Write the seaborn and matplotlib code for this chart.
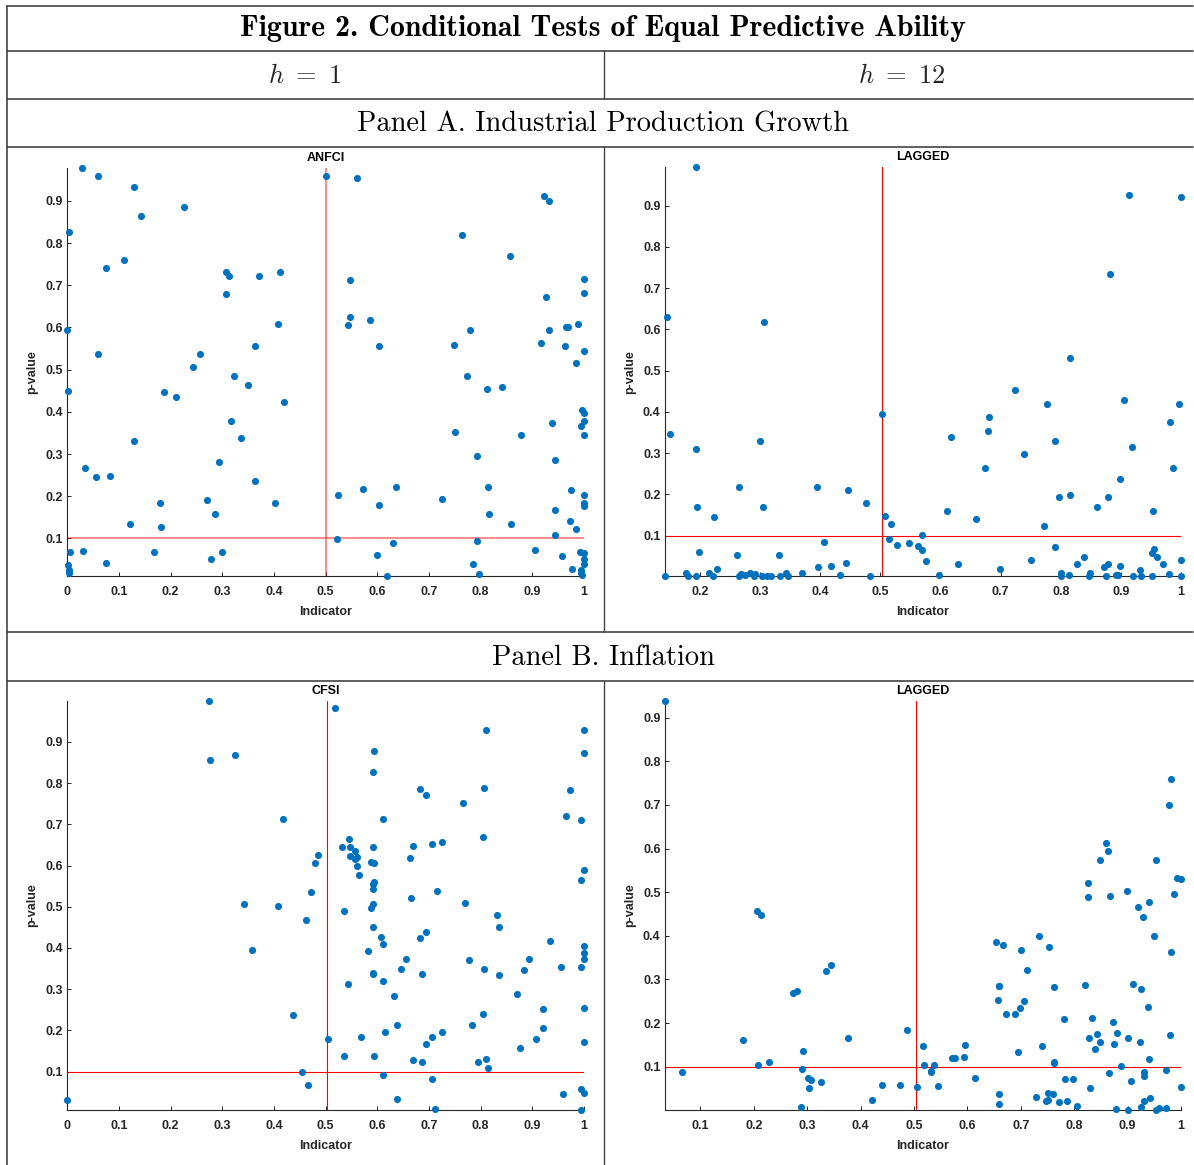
import numpy as np
import pandas as pd
import matplotlib
matplotlib.use("Agg")
import matplotlib.pyplot as plt
import seaborn as sns
from matplotlib.lines import Line2D
from matplotlib.ticker import FuncFormatter, FixedLocator

sns.set_theme(style="white")
plt.rcParams['font.family'] = ['Liberation Sans', 'DejaVu Sans']
plt.rcParams['font.weight'] = 'bold'
plt.rcParams['mathtext.fontset'] = 'cm'

# ---------------- data ----------------
# Panel A, h = 1 (ANFCI)
ip_h1_x = [0.029, 0.060, 0.129, 0.225, 0.142, 0.004, 0.110, 0.074, 0.308, 0.312,
           0.371, 0.412, 0.308, 0.408, 0.0, 0.060, 0.257, 0.363, 0.244, 0.322,
           0.349, 0.002, 0.187, 0.210, 0.419, 0.317, 0.337, 0.129, 0.294, 0.035,
           0.055, 0.082, 0.363, 0.180, 0.270, 0.402, 0.285, 0.121, 0.182, 0.006,
           0.031, 0.167, 0.300, 0.279, 0.074, 0.002, 0.004, 0.004, 0.5,
           0.561, 0.922, 0.932, 0.763, 0.856, 0.547, 1.0, 1.0, 0.926, 0.547,
           0.543, 0.585, 0.780, 0.932, 0.988, 0.965, 0.970, 0.916, 0.963, 0.603,
           1.0, 0.749, 0.985, 0.774, 0.813, 0.841, 0.997, 1.0, 1.0, 0.994,
           0.939, 1.0, 0.750, 0.878, 0.792, 0.943, 0.524, 0.572, 0.637, 0.725,
           0.815, 0.975, 1.0, 1.0, 1.0, 0.603, 0.817, 0.943, 0.972, 0.858,
           0.985, 0.522, 0.792, 0.943, 0.630, 0.906, 0.992, 1.0, 1.0, 1.0,
           0.599, 0.958, 0.785, 0.977, 0.994, 0.995, 0.619, 0.796, 0.997]
ip_h1_p = [0.977, 0.958, 0.933, 0.886, 0.865, 0.826, 0.760, 0.740, 0.732, 0.723,
           0.723, 0.732, 0.678, 0.608, 0.594, 0.538, 0.538, 0.555, 0.507, 0.485,
           0.464, 0.450, 0.447, 0.436, 0.424, 0.379, 0.338, 0.332, 0.282, 0.268,
           0.246, 0.248, 0.237, 0.184, 0.190, 0.184, 0.159, 0.135, 0.127, 0.067,
           0.071, 0.067, 0.068, 0.052, 0.041, 0.037, 0.025, 0.017, 0.958,
           0.955, 0.911, 0.900, 0.818, 0.770, 0.713, 0.715, 0.682, 0.672, 0.624,
           0.606, 0.618, 0.595, 0.594, 0.608, 0.600, 0.600, 0.563, 0.556, 0.555,
           0.545, 0.559, 0.515, 0.486, 0.454, 0.458, 0.405, 0.398, 0.378, 0.367,
           0.373, 0.346, 0.353, 0.344, 0.295, 0.287, 0.203, 0.218, 0.223, 0.194,
           0.223, 0.214, 0.204, 0.184, 0.176, 0.180, 0.157, 0.167, 0.141, 0.135,
           0.122, 0.099, 0.095, 0.108, 0.089, 0.072, 0.069, 0.065, 0.052, 0.040,
           0.060, 0.058, 0.040, 0.027, 0.026, 0.017, 0.011, 0.015, 0.013]

# Panel A, h = 12 (LAGGED)
ip_h12_x = [0.193, 0.144, 0.306, 0.149, 0.193, 0.299, 0.503, 0.264, 0.394, 0.446,
            0.476, 0.194, 0.304, 0.223, 0.507, 0.518, 0.515, 0.527, 0.548,
            0.406, 0.198, 0.262, 0.331, 0.443, 0.418, 0.396, 0.228, 0.370, 0.343,
            0.176, 0.214, 0.283, 0.268, 0.141, 0.180, 0.193, 0.221, 0.264, 0.274,
            0.289, 0.303, 0.311, 0.318, 0.332, 0.346, 0.433, 0.482, 0.292,
            0.562, 0.569, 0.569, 0.575, 0.598, 0.611, 0.617, 0.629, 0.659, 0.674,
            0.679, 0.681, 0.699, 0.723, 0.738, 0.751, 0.772, 0.777, 0.791, 0.791,
            0.797, 0.800, 0.800, 0.816, 0.816, 0.814, 0.827, 0.838, 0.847, 0.849,
            0.860, 0.872, 0.878, 0.876, 0.878, 0.882, 0.892, 0.896, 0.899, 0.899,
            0.905, 0.914, 0.918, 0.920, 0.932, 0.934, 0.952, 0.952, 0.954, 0.955,
            0.960, 0.970, 0.980, 0.981, 0.987, 0.997, 1.0, 1.0, 1.0]
ip_h12_p = [0.993, 0.630, 0.618, 0.347, 0.310, 0.329, 0.396, 0.217, 0.217, 0.211,
            0.179, 0.170, 0.170, 0.146, 0.148, 0.127, 0.091, 0.078, 0.082,
            0.085, 0.059, 0.052, 0.052, 0.034, 0.027, 0.025, 0.019, 0.010, 0.010,
            0.009, 0.009, 0.010, 0.006, 0.002, 0.002, 0.002, 0.002, 0.002, 0.004,
            0.002, 0.002, 0.002, 0.002, 0.002, 0.002, 0.004, 0.002, 0.006,
            0.074, 0.102, 0.065, 0.038, 0.005, 0.160, 0.339, 0.030, 0.140, 0.263,
            0.354, 0.388, 0.019, 0.453, 0.297, 0.040, 0.124, 0.419, 0.329, 0.072,
            0.194, 0.009, 0.002, 0.531, 0.198, 0.004, 0.031, 0.048, 0.002, 0.009,
            0.169, 0.023, 0.032, 0.002, 0.194, 0.735, 0.004, 0.004, 0.236, 0.027,
            0.428, 0.927, 0.314, 0.002, 0.017, 0.002, 0.002, 0.057, 0.160, 0.068,
            0.048, 0.030, 0.006, 0.375, 0.263, 0.418, 0.921, 0.040, 0.002]

# Panel B, h = 1 (CFSI)
inf_h1_x = [0.274, 0.276, 0.325, 0.417, 0.485, 0.479, 0.472, 0.342, 0.407, 0.462,
            0.358, 0.437, 0.504, 0.454, 0.465, 0.0,
            0.519, 0.810, 1.0, 0.594, 1.0, 0.591, 0.683, 0.695, 0.807, 0.972,
            0.765, 0.965, 0.995, 0.611, 0.546, 0.532, 0.547, 0.557, 0.591, 0.547,
            0.557, 0.561, 0.561, 0.565, 0.588, 0.594, 0.670, 0.663, 0.705, 0.725,
            0.804, 1.0, 0.995, 0.594, 0.591, 0.591, 0.715, 0.666, 0.591, 0.588,
            0.535, 0.770, 0.831, 0.835, 0.591, 0.608, 0.611, 0.683, 0.695, 0.581,
            0.934, 1.0, 1.0, 1.0, 0.995, 0.955, 0.893, 0.883, 0.777, 0.807,
            0.835, 0.656, 0.646, 0.591, 0.591, 0.686, 0.611, 0.544, 0.633, 0.870,
            0.921, 1.0, 0.804, 0.784, 0.639, 0.921, 0.907, 0.876, 0.615, 0.568,
            0.705, 0.725, 0.695, 1.0, 0.535, 0.594, 0.670, 0.686, 0.794, 0.810,
            0.814, 0.611, 0.705, 0.959, 0.995, 1.0, 0.639, 0.712, 0.995]
inf_h1_p = [0.999, 0.857, 0.868, 0.714, 0.625, 0.607, 0.536, 0.506, 0.502, 0.467,
            0.395, 0.237, 0.178, 0.099, 0.068, 0.032,
            0.982, 0.929, 0.929, 0.878, 0.872, 0.826, 0.786, 0.771, 0.787, 0.782,
            0.752, 0.719, 0.710, 0.714, 0.664, 0.644, 0.644, 0.635, 0.646, 0.623,
            0.615, 0.621, 0.598, 0.577, 0.608, 0.606, 0.648, 0.617, 0.652, 0.656,
            0.669, 0.589, 0.566, 0.560, 0.554, 0.544, 0.539, 0.522, 0.506, 0.496,
            0.489, 0.509, 0.481, 0.452, 0.452, 0.426, 0.409, 0.425, 0.438, 0.392,
            0.417, 0.405, 0.387, 0.374, 0.353, 0.355, 0.374, 0.346, 0.370, 0.349,
            0.334, 0.374, 0.350, 0.340, 0.336, 0.338, 0.319, 0.313, 0.283, 0.289,
            0.251, 0.254, 0.240, 0.212, 0.212, 0.205, 0.178, 0.158, 0.196, 0.184,
            0.184, 0.196, 0.167, 0.173, 0.138, 0.138, 0.129, 0.123, 0.123, 0.131,
            0.110, 0.091, 0.081, 0.047, 0.057, 0.049, 0.034, 0.009, 0.007]

# Panel B, h = 12 (LAGGED)
inf_h12_x = [0.033, 0.066, 0.180, 0.205, 0.213, 0.207, 0.228, 0.273, 0.281, 0.336,
             0.344, 0.292, 0.290, 0.302, 0.307, 0.303, 0.326, 0.289, 0.376, 0.422,
             0.440, 0.474, 0.486,
             0.505, 0.516, 0.518, 0.537, 0.531, 0.532, 0.544, 0.571, 0.577, 0.593,
             0.596, 0.614, 0.654, 0.667, 0.659, 0.660, 0.657, 0.672, 0.659, 0.659,
             0.690, 0.698, 0.706, 0.695, 0.701, 0.711, 0.734, 0.752, 0.740, 0.762,
             0.762, 0.762, 0.729, 0.751, 0.760, 0.748, 0.751, 0.772, 0.781, 0.782,
             0.797, 0.786, 0.805, 0.821, 0.825, 0.826, 0.828, 0.833, 0.838, 0.843,
             0.848, 0.830, 0.849, 0.859, 0.864, 0.867, 0.865, 0.873, 0.875, 0.880,
             0.878, 0.888, 0.898, 0.901, 0.901, 0.906, 0.911, 0.919, 0.923, 0.925,
             0.928, 0.926, 0.931, 0.931, 0.931, 0.939, 0.941, 0.941, 0.942, 0.949,
             0.954, 0.954, 0.959, 0.971, 0.971, 0.977, 0.979, 0.982, 0.982, 0.986,
             0.992, 1.0, 1.0]
inf_h12_p = [0.938, 0.089, 0.162, 0.456, 0.447, 0.105, 0.111, 0.268, 0.273, 0.320,
             0.334, 0.137, 0.095, 0.075, 0.069, 0.051, 0.065, 0.009, 0.167, 0.025,
             0.059, 0.059, 0.184,
             0.053, 0.147, 0.105, 0.105, 0.091, 0.087, 0.057, 0.121, 0.121, 0.123,
             0.150, 0.075, 0.386, 0.378, 0.285, 0.284, 0.254, 0.220, 0.037, 0.015,
             0.222, 0.235, 0.251, 0.133, 0.368, 0.322, 0.400, 0.374, 0.147, 0.282,
             0.111, 0.108, 0.031, 0.040, 0.037, 0.021, 0.024, 0.019, 0.209, 0.073,
             0.073, 0.021, 0.011, 0.288, 0.521, 0.488, 0.167, 0.211, 0.141, 0.174,
             0.157, 0.051, 0.574, 0.613, 0.595, 0.492, 0.085, 0.203, 0.153, 0.178,
             0.003, 0.101, 0.502, 0.167, 0.001, 0.067, 0.290, 0.467, 0.157, 0.278,
             0.443, 0.009, 0.087, 0.079, 0.021, 0.238, 0.477, 0.117, 0.029, 0.400,
             0.573, 0.001, 0.005, 0.093, 0.005, 0.700, 0.173, 0.760, 0.364, 0.495,
             0.533, 0.530, 0.053]

panel_titles = ['ANFCI', 'LAGGED', 'CFSI', 'LAGGED']
horizon_labels = [r'$h\ =\ 1$', r'$h\ =\ 12$']
section_labels = ['Panel A. Industrial Production Growth', 'Panel B. Inflation']
figure_title = 'Figure 2. Conditional Tests of Equal Predictive Ability'
p_threshold = 0.1
indicator_split = [0.5, 0.503, 0.503, 0.503]

# ---------------- layout ----------------
W, H = 1194, 1165
fig = plt.figure(figsize=(W / 100, H / 100), dpi=100)
fig.patch.set_facecolor('white')


def rect(l, t, r, b):
    return [l / W, 1 - b / H, (r - l) / W, (b - t) / H]


axes_rects = [rect(67.3, 168.3, 584, 576), rect(664.7, 167.3, 1181, 576),
              rect(67.3, 701, 584, 1110), rect(664.7, 701, 1181, 1110)]
line_styles = [dict(color='red', alpha=0.5, lw=1.3),
               dict(color='red', lw=0.8),
               dict(color='red', lw=0.8),
               dict(color='red', lw=0.8)]
datasets = [(ip_h1_x, ip_h1_p), (ip_h12_x, ip_h12_p),
            (inf_h1_x, inf_h1_p), (inf_h12_x, inf_h12_p)]

fmt = FuncFormatter(lambda v, p: f"{round(v, 1):g}")
dark = '#262626'

for i, ((xs, ps), r) in enumerate(zip(datasets, axes_rects)):
    ax = fig.add_axes(r)
    ax.set_facecolor('white')
    df = pd.DataFrame({'Indicator': xs, 'p-value': ps})
    ax.axhline(p_threshold, zorder=2, **line_styles[i])
    ax.axvline(indicator_split[i], zorder=2, **line_styles[i])
    sns.scatterplot(data=df, x='Indicator', y='p-value', ax=ax, color='#0072BD',
                    s=26, linewidth=0, clip_on=False, zorder=3, legend=False)
    ax.set_xlim(min(xs), max(xs))
    ax.set_ylim(min(ps), max(ps))
    xt = [t for t in np.round(np.arange(0, 1.01, 0.1), 1) if min(xs) - 1e-9 <= t <= max(xs) + 1e-9]
    yt = [t for t in np.round(np.arange(0, 1.01, 0.1), 1) if min(ps) <= t <= max(ps)]
    ax.xaxis.set_major_locator(FixedLocator(xt))
    ax.yaxis.set_major_locator(FixedLocator(yt))
    ax.xaxis.set_major_formatter(fmt)
    ax.yaxis.set_major_formatter(fmt)
    ax.tick_params(axis='x', direction='in', length=3, width=0.7, colors=dark,
                   labelsize=9, pad=7, bottom=True, left=False)
    ax.tick_params(axis='y', direction='in', length=3, width=0.7, colors=dark,
                   labelsize=9, pad=3, left=True, bottom=False)
    for s in ['top', 'right']:
        ax.spines[s].set_visible(False)
    for s in ['left', 'bottom']:
        ax.spines[s].set_color(dark)
        ax.spines[s].set_linewidth(0.8)
    ax.set_xlabel('Indicator', fontsize=9, fontweight='bold', color=dark, labelpad=6)
    ax.set_ylabel('p-value', fontsize=9, fontweight='bold', color=dark, labelpad=5)
    ax.set_title(panel_titles[i], fontsize=9, fontweight='bold', color='black', pad=5)
    ax.grid(False)

# ---------------- table frame & header ----------------
gc = '#444444'
for y in [6, 51, 99, 147, 632, 681]:
    fig.add_artist(Line2D([7 / W, 1193 / W], [1 - y / H, 1 - y / H], color=gc, lw=1.2))
fig.add_artist(Line2D([7 / W, 7 / W], [1 - 6 / H, 0], color=gc, lw=1.2))
for (t, b) in [(51, 99), (147, 632), (681, 1165)]:
    fig.add_artist(Line2D([604 / W, 604 / W], [1 - t / H, 1 - b / H], color=gc, lw=1.0))

fig.text(603 / W, 1 - 29 / H, figure_title, fontfamily='cmb10', fontsize=21.5,
         fontweight='normal', ha='center', va='center', color='black')
fig.text(305 / W, 1 - 76 / H, horizon_labels[0], fontsize=19, ha='center', va='center')
fig.text(902 / W, 1 - 76 / H, horizon_labels[1], fontsize=19, ha='center', va='center')
fig.text(603 / W, 1 - 124 / H, section_labels[0], fontfamily='cmr10', fontsize=20.5,
         fontweight='normal', ha='center', va='center', color='black')
fig.text(603 / W, 1 - 658 / H, section_labels[1], fontfamily='cmr10', fontsize=20.5,
         fontweight='normal', ha='center', va='center', color='black')

fig.savefig('out.png', dpi=100, facecolor='white')
